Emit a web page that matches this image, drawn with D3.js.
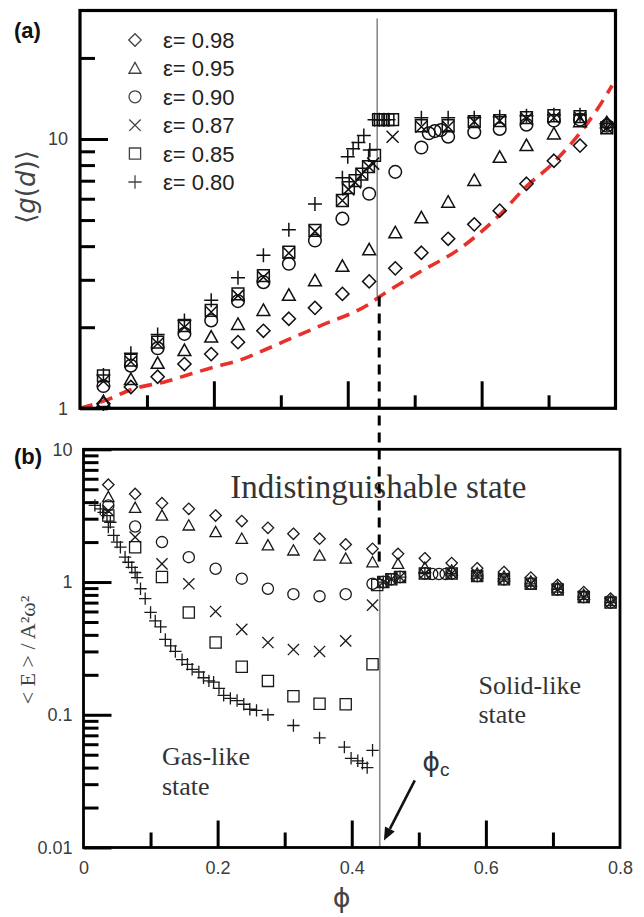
<!DOCTYPE html>
<html>
<head>
<meta charset="utf-8">
<script src="https://cdn.jsdelivr.net/npm/d3@7"></script>
<style>
  body { margin: 0; background: #fff; }
  svg { display: block; }
</style>
</head>
<body>
<svg id="chart" width="644" height="917"></svg>
<script>
// ---------- legend ----------
const epsLabels = ["ε= 0.98", "ε= 0.95", "ε= 0.90", "ε= 0.87", "ε= 0.85", "ε= 0.80"];
const markerKinds = ["diamond", "triangle", "circle", "cross", "square", "plus"];

// ---------- panel (a): <g(d)> versus packing fraction ----------
const phiA98 = [0.035,0.076,0.116,0.156,0.196,0.236,0.274,0.312,0.351,0.392,0.432,0.471,0.510,0.550,0.589,0.627,0.667,0.708,0.747,0.787];
const gA98   = [1.04,1.20,1.31,1.46,1.59,1.76,1.94,2.15,2.36,2.66,2.96,3.31,3.78,4.26,4.82,5.42,6.82,8.30,9.45,11.4];
const phiA95 = [0.035,0.076,0.116,0.156,0.196,0.236,0.274,0.312,0.351,0.392,0.432,0.471,0.510,0.550,0.589,0.627,0.667,0.708,0.747,0.787];
const gA95   = [1.06,1.28,1.47,1.64,1.84,2.05,2.31,2.63,2.98,3.37,3.88,4.49,5.10,5.83,7.02,8.56,9.46,10.45,11.6,11.5];
const phiA90 = [0.035,0.076,0.116,0.156,0.196,0.236,0.274,0.312,0.351,0.392,0.432,0.471,0.510,0.521,0.530,0.539,0.550,0.589,0.627,0.667,0.708,0.747,0.787];
const gA90   = [1.21,1.44,1.67,1.89,2.12,2.50,2.94,3.44,4.20,5.06,6.26,7.55,9.30,10.5,10.7,10.8,10.2,10.6,10.9,11.3,11.7,11.8,11.2];
const phiA87 = [0.035,0.076,0.116,0.156,0.196,0.236,0.274,0.312,0.351,0.392,0.401,0.411,0.421,0.431,0.438,0.467,0.510,0.550,0.589,0.627,0.667,0.708,0.747,0.787];
const gA87   = [1.26,1.49,1.74,2.00,2.28,2.62,3.07,3.77,4.54,5.91,6.5,6.9,7.4,7.9,8.1,10.2,11.1,11.1,11.6,11.7,11.9,12.0,12.0,11.0];
const phiA85 = [0.035,0.076,0.116,0.156,0.196,0.236,0.274,0.312,0.351,0.392,0.401,0.411,0.421,0.431,0.440,0.446,0.453,0.460,0.467,0.510,0.550,0.589,0.627,0.667,0.708,0.747,0.787];
const gA85   = [1.32,1.51,1.76,2.03,2.31,2.66,3.11,3.80,4.58,5.91,6.6,7.0,7.4,7.9,8.7,11.8,11.8,11.8,11.8,11.2,11.2,11.6,11.7,12.0,12.2,12.1,11.0];
const phiA80 = [0.035,0.076,0.116,0.156,0.196,0.236,0.274,0.312,0.351,0.392,0.400,0.408,0.416,0.424,0.433,0.440,0.447,0.454,0.461,0.510,0.550,0.589,0.627,0.667,0.708,0.747,0.787];
const gA80   = [1.33,1.60,1.88,2.12,2.52,3.05,3.70,4.60,5.74,7.18,8.6,9.2,9.7,10.3,9.1,11.8,11.8,11.8,11.8,12.0,12.0,12.0,12.1,12.2,12.3,12.3,11.4];

// elastic reference curve (red dashed)
const phiRed = [0,0.045,0.075,0.130,0.165,0.199,0.239,0.279,0.309,0.358,0.433,0.448,0.507,0.567,0.626,0.666,0.706,0.741,0.771,0.795];
const gRed   = [1.0,1.086,1.17,1.26,1.34,1.42,1.51,1.66,1.79,2.02,2.45,2.60,3.20,3.91,5.2,6.63,8.1,10.1,12.7,15.8];

// ---------- panel (b): <E>/A²ω² versus packing fraction ----------
const phiB98 = [0.037,0.077,0.117,0.157,0.197,0.236,0.275,0.313,0.352,0.391,0.431,0.469,0.509,0.549,0.587,0.627,0.667,0.707,0.746,0.786];
const eB98   = [5.41,4.61,3.93,3.56,3.17,2.88,2.56,2.31,2.12,1.92,1.78,1.63,1.51,1.39,1.27,1.19,1.08,0.95,0.84,0.75];
const phiB95 = [0.037,0.077,0.117,0.157,0.197,0.236,0.275,0.313,0.352,0.391,0.431,0.469,0.509,0.549,0.587,0.627,0.667,0.707,0.746,0.786];
const eB95   = [4.37,3.62,3.17,2.67,2.38,2.12,1.89,1.73,1.58,1.50,1.41,1.37,1.28,1.22,1.16,1.10,1.01,0.91,0.80,0.72];
const phiB90 = [0.037,0.077,0.117,0.157,0.197,0.236,0.275,0.313,0.352,0.391,0.431,0.447,0.459,0.472,0.509,0.520,0.530,0.540,0.549,0.587,0.627,0.667,0.707,0.746,0.786];
const eB90   = [3.78,2.62,2.00,1.54,1.26,1.06,0.89,0.81,0.78,0.81,0.97,1.00,1.05,1.09,1.16,1.15,1.15,1.15,1.16,1.11,1.05,0.97,0.88,0.77,0.70];
const phiB87 = [0.037,0.077,0.117,0.157,0.197,0.236,0.275,0.313,0.352,0.391,0.431,0.447,0.459,0.472,0.509,0.549,0.587,0.627,0.667,0.707,0.746,0.786];
const eB87   = [3.45,2.18,1.37,0.97,0.60,0.44,0.35,0.31,0.30,0.36,0.67,1.00,1.05,1.09,1.16,1.16,1.11,1.05,0.97,0.88,0.77,0.70];
const phiB85 = [0.037,0.077,0.117,0.157,0.197,0.236,0.275,0.313,0.352,0.391,0.431,0.438,0.447,0.459,0.472,0.509,0.549,0.587,0.627,0.667,0.707,0.746,0.786];
const eB85   = [3.17,1.83,1.09,0.59,0.35,0.23,0.18,0.138,0.121,0.12,0.24,0.95,1.00,1.05,1.09,1.16,1.16,1.11,1.05,0.97,0.88,0.77,0.70];
const phiB80 = [0.017,0.025,0.030,0.035,0.037,0.040,0.045,0.050,0.055,0.062,0.067,0.072,0.077,0.080,0.085,0.092,0.100,0.107,0.115,0.122,0.130,0.137,0.147,0.155,0.162,0.172,0.179,0.187,0.194,0.202,0.209,0.219,0.229,0.239,0.248,0.258,0.275,0.313,0.352,0.389,0.399,0.409,0.416,0.423,0.431,0.447,0.459,0.472,0.509,0.549,0.587,0.627,0.667,0.707,0.746,0.786];
const eB80   = [3.78,3.56,3.35,3.17,2.59,2.82,2.25,2.00,1.83,1.54,1.41,1.29,1.18,1.08,0.89,0.75,0.59,0.51,0.46,0.37,0.33,0.30,0.26,0.24,0.22,0.21,0.19,0.18,0.176,0.158,0.14,0.133,0.128,0.12,0.11,0.108,0.10,0.083,0.067,0.057,0.047,0.045,0.043,0.040,0.054,1.00,1.05,1.09,1.16,1.16,1.11,1.05,0.97,0.88,0.77,0.70];

// ---------- axes ticks ----------
const phiTicksMajor = [0.2, 0.4, 0.6];
const phiTicksMinor = [0.1, 0.3, 0.5, 0.7];
const phiTickLabels = [0, 0.2, 0.4, 0.6, 0.8];
const gTickLabels = [1, 10];
const gTicksMinor = [2, 3, 4, 5, 6, 7, 8, 9, 20];
const eTickLabels = [0.01, 0.1, 1, 10];
const eTicksMinor = [0.02,0.03,0.04,0.05,0.06,0.07,0.08,0.09,0.2,0.3,0.4,0.5,0.6,0.7,0.8,0.9,2,3,4,5,6,7,8,9];

// critical packing fraction
const phiC = 0.444;

const svg = d3.select("#chart");

const xA = d3.scaleLinear().domain([0, 0.8]).range([80, 615.5]);
const yA = d3.scaleLog().domain([1, 30]).range([408.3, 10.5]);
const xB = d3.scaleLinear().domain([0, 0.8]).range([83.5, 620]);
const yB = d3.scaleLog().domain([0.01, 10]).range([847.5, 449.3]);

// ---------- marker shapes (r = half width) ----------
const shapeTypes = {
  diamond:  { draw(c, r) { c.moveTo(0, -r); c.lineTo(r, 0); c.lineTo(0, r); c.lineTo(-r, 0); c.closePath(); } },
  triangle: { draw(c, r) { c.moveTo(0, -r); c.lineTo(r, r * 0.8); c.lineTo(-r, r * 0.8); c.closePath(); } },
  circle:   { draw(c, r) { c.moveTo(r, 0); c.arc(0, 0, r, 0, 2 * Math.PI); } },
  cross:    { draw(c, r) { c.moveTo(-r, -r); c.lineTo(r, r); c.moveTo(-r, r); c.lineTo(r, -r); } },
  square:   { draw(c, r) { c.rect(-r, -r, 2 * r, 2 * r); } },
  plus:     { draw(c, r) { c.moveTo(-r, 0); c.lineTo(r, 0); c.moveTo(0, -r); c.lineTo(0, r); } }
};
const sizeA = { diamond: 6.6, triangle: 6.4, circle: 6.3, cross: 6.0, square: 5.9, plus: 7.0 };
const sizeB = { diamond: 5.7, triangle: 5.7, circle: 5.6, cross: 5.6, square: 5.6, plus: 6.2 };

function drawSeries(g, xs, ys, phis, vals, kind, sizes, sw, color) {
  g.append("g").selectAll("path")
    .data(d3.zip(phis, vals))
    .join("path")
    .attr("transform", d => `translate(${xs(d[0])},${ys(d[1])})`)
    .attr("d", d3.symbol().type(shapeTypes[kind]).size(sizes[kind]))
    .attr("fill", "none")
    .attr("stroke", color)
    .attr("stroke-width", sw);
}

function styleAxis(sel) {
  sel.select(".domain").remove();
  sel.selectAll(".tick line").attr("stroke", "#000").attr("stroke-width", 3);
  sel.selectAll(".tick text")
    .attr("fill", "#3c3c3c")
    .attr("font-family", "Liberation Sans, Arial, sans-serif")
    .attr("font-size", 18);
}

const tickFont = "Liberation Sans, Arial, sans-serif";

// ======================= PANEL (a) =======================
const pa = svg.append("g");

// y ticks (inward)
pa.append("g").attr("transform", `translate(${xA(0)},0)`)
  .call(d3.axisLeft(yA).tickValues(gTickLabels).tickFormat(d3.format("d")).tickSize(-28).tickPadding(12))
  .call(styleAxis);
pa.append("g").attr("transform", `translate(${xA(0)},0)`)
  .call(d3.axisLeft(yA).tickValues(gTicksMinor).tickFormat("").tickSize(-15))
  .call(styleAxis);
// x ticks (inward, unlabelled)
pa.append("g").attr("transform", `translate(0,${yA(1)})`)
  .call(d3.axisBottom(xA).tickValues(phiTicksMajor).tickFormat("").tickSize(-27))
  .call(styleAxis);
pa.append("g").attr("transform", `translate(0,${yA(1)})`)
  .call(d3.axisBottom(xA).tickValues(phiTicksMinor).tickFormat("").tickSize(-13))
  .call(styleAxis);

// critical line (gray, solid) in panel (a)
pa.append("line")
  .attr("x1", xA(phiC)).attr("x2", xA(phiC))
  .attr("y1", yA(28)).attr("y2", yA(2.6))
  .attr("stroke", "#8a8a8a").attr("stroke-width", 1.6);

// reference curve
pa.append("path")
  .datum(d3.zip(phiRed, gRed))
  .attr("d", d3.line().x(d => xA(d[0])).y(d => yA(d[1])).curve(d3.curveMonotoneX))
  .attr("fill", "none")
  .attr("stroke", "#e8312b")
  .attr("stroke-width", 3.6)
  .attr("stroke-dasharray", "13,8");

const seriesA = [[phiA98, gA98], [phiA95, gA95], [phiA90, gA90], [phiA87, gA87], [phiA85, gA85], [phiA80, gA80]];
seriesA.forEach((s, i) => drawSeries(pa, xA, yA, s[0], s[1], markerKinds[i], sizeA, 1.5, "#111"));

// frame
pa.append("rect")
  .attr("x", xA(0)).attr("y", yA(30))
  .attr("width", xA(0.8) - xA(0)).attr("height", yA(1) - yA(30))
  .attr("fill", "none").attr("stroke", "#000").attr("stroke-width", 3.2);

// legend
const legend = pa.append("g");
epsLabels.forEach((lab, i) => {
  const y = 40 + i * 28.4;
  legend.append("path")
    .attr("transform", `translate(135,${y})`)
    .attr("d", d3.symbol().type(shapeTypes[markerKinds[i]]).size(sizeA[markerKinds[i]] * 0.95))
    .attr("fill", "none").attr("stroke", "#444").attr("stroke-width", 1.3);
  legend.append("text")
    .attr("x", 163).attr("y", y).attr("dy", "0.36em")
    .attr("font-family", tickFont).attr("font-size", 22).attr("fill", "#222")
    .text(lab);
});

// panel label and y title
svg.append("text").attr("x", 14).attr("y", 38)
  .attr("font-family", tickFont).attr("font-weight", "bold").attr("font-size", 22).attr("fill", "#111")
  .text("(a)");

const ytA = svg.append("text")
  .attr("transform", "translate(35,187) rotate(-90)")
  .attr("text-anchor", "middle")
  .attr("font-family", "DejaVu Sans, Liberation Sans, sans-serif")
  .attr("font-size", 26).attr("fill", "#444");
ytA.append("tspan").text("⟨");
ytA.append("tspan").attr("font-style", "italic").text("g");
ytA.append("tspan").text("(");
ytA.append("tspan").attr("font-style", "italic").text("d");
ytA.append("tspan").text(")");
ytA.append("tspan").text("⟩");

// ======================= PANEL (b) =======================
const pb = svg.append("g");

pb.append("g").attr("transform", `translate(${xB(0)},0)`)
  .call(d3.axisLeft(yB).tickValues(eTickLabels).tickFormat(d => String(d)).tickSize(-28).tickPadding(11))
  .call(styleAxis);
pb.append("g").attr("transform", `translate(${xB(0)},0)`)
  .call(d3.axisLeft(yB).tickValues(eTicksMinor).tickFormat("").tickSize(-15))
  .call(styleAxis);
pb.append("g").attr("transform", `translate(0,${yB(0.01)})`)
  .call(d3.axisBottom(xB).tickValues(phiTickLabels).tickFormat(d => String(d)).tickSize(0).tickPadding(14))
  .call(styleAxis);
pb.append("g").attr("transform", `translate(0,${yB(0.01)})`)
  .call(d3.axisBottom(xB).tickValues(phiTicksMajor).tickFormat("").tickSize(-27))
  .call(styleAxis);
pb.append("g").attr("transform", `translate(0,${yB(0.01)})`)
  .call(d3.axisBottom(xB).tickValues(phiTicksMinor).tickFormat("").tickSize(-15))
  .call(styleAxis);

// critical line (gray, solid) in panel (b)
pb.append("line")
  .attr("x1", xB(phiC) - 1.5).attr("x2", xB(phiC) - 1.5)
  .attr("y1", yB(1.0)).attr("y2", yB(0.01))
  .attr("stroke", "#8a8a8a").attr("stroke-width", 1.6);

const seriesB = [[phiB98, eB98], [phiB95, eB95], [phiB90, eB90], [phiB87, eB87], [phiB85, eB85], [phiB80, eB80]];
seriesB.forEach((s, i) => drawSeries(pb, xB, yB, s[0], s[1], markerKinds[i], sizeB, 1.3, "#1a1a1a"));

pb.append("rect")
  .attr("x", xB(0)).attr("y", yB(10))
  .attr("width", xB(0.8) - xB(0)).attr("height", yB(0.01) - yB(10))
  .attr("fill", "none").attr("stroke", "#000").attr("stroke-width", 2.8);

// dashed connector from panel (a) curve down to the jump in panel (b)
svg.append("line")
  .attr("x1", (xA(phiC) + xB(phiC)) / 2).attr("x2", (xA(phiC) + xB(phiC)) / 2)
  .attr("y1", yA(2.6)).attr("y2", yB(1.3))
  .attr("stroke", "#000").attr("stroke-width", 3)
  .attr("stroke-dasharray", "10,7");

// region annotations
const serif = "Liberation Serif, Times New Roman, serif";
pb.append("text").attr("x", xB(0.219)).attr("y", 498)
  .attr("font-family", serif).attr("font-size", 33).attr("fill", "#333")
  .text("Indistinguishable state");
pb.append("text").attr("x", xB(0.117)).attr("y", 765)
  .attr("font-family", serif).attr("font-size", 26).attr("fill", "#333")
  .text("Gas-like");
pb.append("text").attr("x", xB(0.117)).attr("y", 795)
  .attr("font-family", serif).attr("font-size", 26).attr("fill", "#333")
  .text("state");
pb.append("text").attr("x", xB(0.589)).attr("y", 694)
  .attr("font-family", serif).attr("font-size", 26).attr("fill", "#333")
  .text("Solid-like");
pb.append("text").attr("x", xB(0.589)).attr("y", 723)
  .attr("font-family", serif).attr("font-size", 26).attr("fill", "#333")
  .text("state");

// phi_c label and arrow
const pc = pb.append("text").attr("x", xB(0.505)).attr("y", 771)
  .attr("font-family", "DejaVu Sans, sans-serif").attr("font-size", 27).attr("fill", "#333");
pc.append("tspan").text("ϕ");
pc.append("tspan").attr("font-size", 19).attr("font-family", tickFont).attr("dy", 5).text("c");

const tail = [xB(0.494), yB(0.032)];
const head = [xB(0.448), yB(0.0113)];
const ang = Math.atan2(head[1] - tail[1], head[0] - tail[0]);
const hl = 13, hw = 5.5;
const base = [head[0] - hl * Math.cos(ang), head[1] - hl * Math.sin(ang)];
pb.append("line")
  .attr("x1", tail[0]).attr("y1", tail[1]).attr("x2", base[0]).attr("y2", base[1])
  .attr("stroke", "#111").attr("stroke-width", 2.6);
pb.append("path")
  .attr("d", d3.line()([
    head,
    [base[0] + hw * Math.sin(ang), base[1] - hw * Math.cos(ang)],
    [base[0] - hw * Math.sin(ang), base[1] + hw * Math.cos(ang)]
  ]) + "Z")
  .attr("fill", "#111");

// panel label and axis titles
svg.append("text").attr("x", 14).attr("y", 464)
  .attr("font-family", tickFont).attr("font-weight", "bold").attr("font-size", 22).attr("fill", "#111")
  .text("(b)");

svg.append("text")
  .attr("transform", "translate(35,650) rotate(-90)")
  .attr("text-anchor", "middle")
  .attr("font-family", serif).attr("font-size", 22).attr("fill", "#444")
  .text("< E > / A²ω²");

svg.append("text")
  .attr("x", xB(0.385)).attr("y", 907)
  .attr("text-anchor", "middle")
  .attr("font-family", "DejaVu Sans, sans-serif").attr("font-size", 27).attr("fill", "#444")
  .text("ϕ");
</script>
</body>
</html>
